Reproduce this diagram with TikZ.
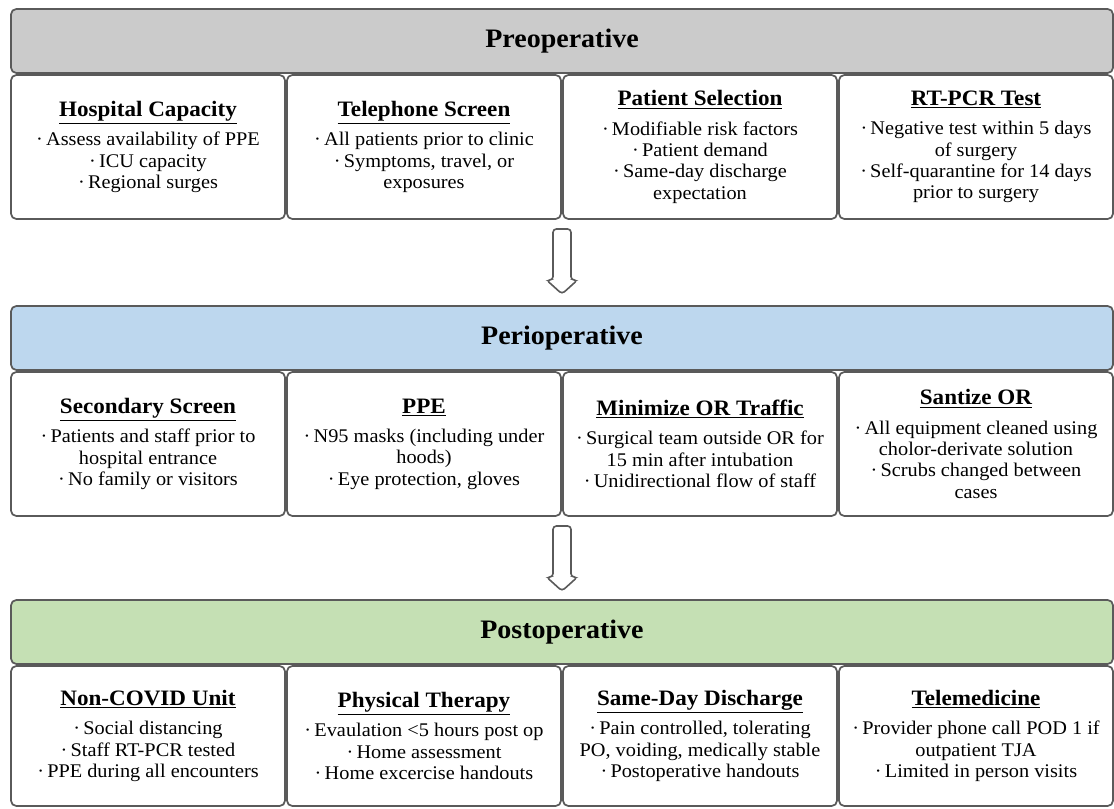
\documentclass[tikz,border=0pt]{standalone}
\usepackage{fontspec}
\setmainfont[FakeStretch=1.05]{Liberation Serif}
\usetikzlibrary{positioning}

\definecolor{linegray}{HTML}{5A5A5A}
\definecolor{pregray}{HTML}{CBCBCB}
\definecolor{periblue}{HTML}{BDD7EE}
\definecolor{postgreen}{HTML}{C5E0B4}

% bold underlined heading inside a box
\newcommand{\itemhead}[1]{{\fontsize{16.5}{18}\selectfont\bfseries\underline{#1}}}

\tikzset{
  stage/.style={draw=linegray, line width=1.3pt, rounded corners=4pt, outer sep=0pt, minimum width=826.5pt, minimum height=48pt, font=\fontsize{20}{24}\selectfont\bfseries},
  item/.style={draw=linegray, line width=1.3pt, rounded corners=4pt, outer sep=0pt, fill=white, minimum width=205.5pt, minimum height=108pt, align=center, inner sep=2pt, font=\fontsize{14.5}{16}\selectfont},
  downarrow/.pic={
    \draw[linegray, line width=1.2pt, rounded corners=2.5pt, fill=white]
      (-9,0) -- (-9,51) -- (-15.5,51) -- (0,65) -- (15.5,51) -- (9,51) -- (9,0) -- cycle;
  }
}

\begin{document}
\begin{tikzpicture}[x=0.75pt, y=-0.75pt, node distance=1.5pt]
  \useasboundingbox (0,0) rectangle (1114,809);

  % Preoperative
  \node (pre) [stage, fill=pregray] at (562,41) {Preoperative};
  \node (pre1) [item, below=1.5pt of pre.south west, anchor=north west] {\itemhead{Hospital Capacity}\\[6pt] ·\,Assess availability of PPE\\ ·\,ICU capacity\\ ·\,Regional surges};
  \node (pre2) [item, right=of pre1] {\itemhead{Telephone Screen}\\[6pt] ·\,All patients prior to clinic\\ ·\,Symptoms, travel, or\\ exposures};
  \node (pre3) [item, right=of pre2] {\itemhead{Patient Selection}\\[6pt] ·\,Modifiable risk factors\\ ·\,Patient demand\\ ·\,Same-day discharge\\ expectation};
  \node (pre4) [item, right=of pre3] {\itemhead{RT-PCR Test}\\[6pt] ·\,Negative test within 5 days\\ of surgery\\ ·\,Self-quarantine for 14 days\\ prior to surgery};

  % Perioperative
  \node (peri) [stage, fill=periblue] at (562,338) {Perioperative};
  \node (peri1) [item, below=1.5pt of peri.south west, anchor=north west] {\itemhead{Secondary Screen}\\[6pt] ·\,Patients and staff prior to\\ hospital entrance\\ ·\,No family or visitors};
  \node (peri2) [item, right=of peri1] {\itemhead{PPE}\\[6pt] ·\,N95 masks (including under\\ hoods)\\ ·\,Eye protection, gloves};
  \node (peri3) [item, right=of peri2] {\itemhead{Minimize OR Traffic}\\[6pt] ·\,Surgical team outside OR for\\ 15 min after intubation\\ ·\,Unidirectional flow of staff};
  \node (peri4) [item, right=of peri3] {\itemhead{Santize OR}\\[6pt] ·\,All equipment cleaned using\\ cholor-derivate solution\\ ·\,Scrubs changed between\\ cases};

  % Postoperative
  \node (post) [stage, fill=postgreen] at (562,632) {Postoperative};
  \node (post1) [item, minimum height=105pt, below=1.5pt of post.south west, anchor=north west] {\itemhead{Non-COVID Unit}\\[6pt] ·\,Social distancing\\ ·\,Staff RT-PCR tested\\ ·\,PPE during all encounters};
  \node (post2) [item, minimum height=105pt, right=of post1] {\itemhead{Physical Therapy}\\[6pt] ·\,Evaulation <5 hours post op\\ ·\,Home assessment\\ ·\,Home excercise handouts};
  \node (post3) [item, minimum height=105pt, right=of post2] {\itemhead{Same-Day Discharge}\\[6pt] ·\,Pain controlled, tolerating\\ PO, voiding, medically stable\\ ·\,Postoperative handouts};
  \node (post4) [item, minimum height=105pt, right=of post3] {\itemhead{Telemedicine}\\[6pt] ·\,Provider phone call POD 1 if\\ outpatient TJA\\ ·\,Limited in person visits};

  % Arrows between stages
  \pic at ([xshift=0.75pt, yshift=-7.5pt]pre2.south east) {downarrow};
  \pic at ([xshift=0.75pt, yshift=-7.5pt]peri2.south east) {downarrow};
\end{tikzpicture}
\end{document}
